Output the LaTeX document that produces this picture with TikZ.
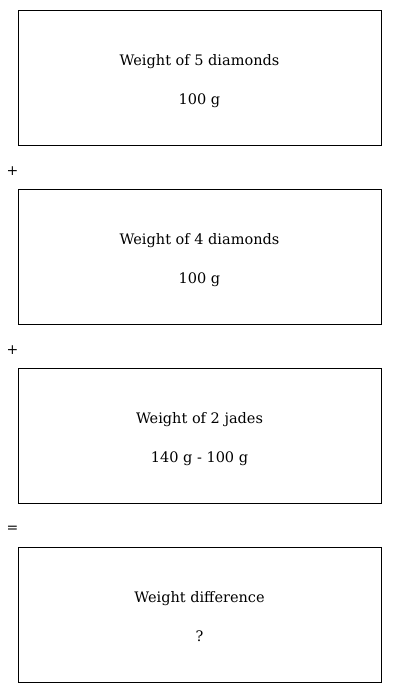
\documentclass[tikz,border=0pt]{standalone}
\usepackage{tikz}
\usepackage{fontspec}
\setmainfont{DejaVu Serif}
\usetikzlibrary{positioning}

\begin{document}
\begin{tikzpicture}[x=1pt, y=1pt, font=\fontsize{14.5}{17}\selectfont,
  wbox/.style={draw, line width=0.8pt, minimum width=363pt, minimum height=135pt,
    inner sep=0pt},
  wtxt/.style={anchor=base, inner sep=0pt},
  sign/.style={font=\fontsize{14}{16}\selectfont, inner sep=0pt}]

\useasboundingbox (0,0) rectangle (400,693);

% boxes
\node[wbox] (d5) at (199.5,615.5) {};
\node[wbox] (d4) at (199.5,436.5) {};
\node[wbox] (j2) at (199.5,257.5) {};
\node[wbox] (diff) at (199.5,78.5) {};

% texts
\node[wtxt] (d5a) at ([yshift=-55.5pt]d5.north) {Weight of 5 diamonds};
\node[wtxt] (d5b) at ([yshift=-94.5pt]d5.north) {100 g};
\node[wtxt] (d4a) at ([yshift=-55.5pt]d4.north) {Weight of 4 diamonds};
\node[wtxt] (d4b) at ([yshift=-94.5pt]d4.north) {100 g};
\node[wtxt] (j2a) at ([yshift=-55.5pt]j2.north) {Weight of 2 jades};
\node[wtxt] (j2b) at ([yshift=-94.5pt]j2.north) {140 g - 100 g};
\node[wtxt] (diffa) at ([yshift=-55.5pt]diff.north) {Weight difference};
\node[wtxt] (diffb) at ([yshift=-94.5pt]diff.north) {?};

% signs
\node[sign] (plus1) at (12.5,522) {+};
\node[sign] (plus2) at (12.5,343) {+};
\node[sign] (eq) at (12.5,164) {=};
\end{tikzpicture}
\end{document}
